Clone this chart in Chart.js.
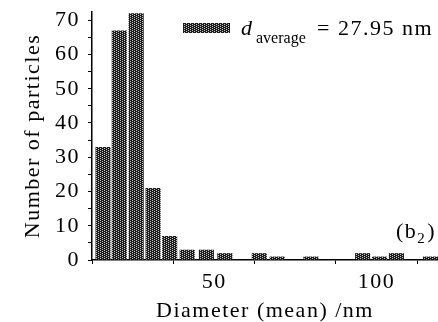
<!DOCTYPE html>
<html>
<head>
<meta charset="utf-8">
<script src="https://cdn.jsdelivr.net/npm/chart.js@4.4.0/dist/chart.umd.min.js"></script>
<style>
  html, body { margin: 0; padding: 0; background: #fff; }
  #wrap { width: 438px; height: 322px; }
</style>
</head>
<body>
<div id="wrap"><canvas id="chart"></canvas></div>
<script>
// histogram bins (centre of each bin, nm) and counts
var binCenters = [15.8, 20.8, 26.0, 31.2, 36.3, 41.7, 47.6, 53.3, 58.6, 63.9, 69.4, 74.6, 79.8, 85.1, 90.4, 95.7, 100.9, 106.1, 111.3, 116.6];
var counts = [33, 67, 72, 21, 7, 3, 3, 2, 0, 2, 1, 0, 1, 0, 0, 2, 1, 2, 0, 1];
var yTickLabels = [0, 10, 20, 30, 40, 50, 60, 70];
var xTickLabels = [50, 100];

var serif = "'Liberation Serif', 'DejaVu Serif', serif";

// dotted dark fill like the scanned bars
function makeHatch() {
    var c = document.createElement('canvas');
    c.width = 4;
    c.height = 4;
    var g = c.getContext('2d');
    g.fillStyle = '#1c1c1c';
    g.fillRect(0, 0, 4, 4);
    g.fillStyle = '#c8c8c8';
    for (var y = 0; y < 4; y++) {
        for (var x = 0; x < 4; x++) {
            if ((x + 2 * y) % 4 == 0) g.fillRect(x, y, 1, 1);
        }
    }
    return g.createPattern(c, 'repeat');
}
var hatch = makeHatch();

var points = binCenters.map(function (d, i) {
    return { x: d, y: counts[i] };
});

// scanned type is spaced out a little
var spacing = {
    id: 'spacing',
    beforeUpdate: function (chart) { chart.ctx.letterSpacing = '1.5px'; },
    beforeDraw: function (chart) { chart.ctx.letterSpacing = '1.5px'; }
};

// legend with subscript + panel label
var annotations = {
    id: 'annotations',
    afterDraw: function (chart) {
        var ctx = chart.ctx;
        var area = chart.chartArea;
        ctx.save();
        ctx.fillStyle = hatch;
        ctx.fillRect(area.left + 91, area.top + 11, 47, 10);
        ctx.fillStyle = '#000';
        ctx.textBaseline = 'alphabetic';
        ctx.textAlign = 'left';
        var base = area.top + 23;
        ctx.font = 'italic 22px ' + serif;
        ctx.fillText('d', area.left + 149, base);
        ctx.letterSpacing = '0px';
        ctx.font = '16px ' + serif;
        ctx.fillText('average', area.left + 164, base + 8);
        ctx.letterSpacing = '1.5px';
        ctx.font = '22px ' + serif;
        ctx.fillText('= 27.95 nm', area.left + 225, base);

        // (b2)
        var by = area.top + 226;
        var bx = area.left + 304;
        ctx.fillText('(b', bx, by);
        var w = ctx.measureText('(b').width;
        ctx.font = '15px ' + serif;
        ctx.fillText('2', bx + w, by + 5);
        var w2 = ctx.measureText('2').width;
        ctx.font = '22px ' + serif;
        ctx.fillText(')', bx + w + w2 + 1, by);
        ctx.restore();
    }
};

new Chart(document.getElementById('chart'), {
    type: 'bar',
    data: {
        datasets: [{
            label: 'd average = 27.95 nm',
            data: points,
            backgroundColor: hatch,
            borderWidth: 0,
            barPercentage: 0.93,
            categoryPercentage: 1
        }]
    },
    options: {
        responsive: true,
        maintainAspectRatio: false,
        animation: false,
        layout: { padding: { top: 12, right: 0, left: 0, bottom: 0 } },
        plugins: {
            legend: { display: false },
            tooltip: { enabled: false }
        },
        scales: {
            x: {
                type: 'linear',
                min: 12.4,
                max: 118.9,
                offset: false,
                border: { display: true, color: '#000', width: 1.5 },
                grid: { drawOnChartArea: false, drawTicks: true, tickLength: 4, color: '#000' },
                ticks: {
                    stepSize: 25,
                    includeBounds: false,
                    padding: 5,
                    maxRotation: 0,
                    autoSkip: false,
                    color: '#000',
                    font: { family: serif, size: 22 },
                    callback: function (v) {
                        return xTickLabels.indexOf(v) != -1 ? String(v) : '';
                    }
                },
                afterBuildTicks: function (scale) {
                    scale.ticks = scale.ticks.filter(function (t) { return t.value % 25 == 0; });
                },
                afterFit: function (scale) {
                    scale.height = 62;
                    scale.paddingLeft = 0;
                    scale.paddingRight = 0;
                },
                title: {
                    display: true,
                    text: 'Diameter (mean) /nm',
                    color: '#000',
                    font: { family: serif, size: 22, lineHeight: 1 },
                    padding: { top: 0, bottom: 0 }
                }
            },
            y: {
                min: 0,
                max: 72.4,
                border: { display: true, color: '#000', width: 1.5 },
                grid: { drawOnChartArea: false, drawTicks: true, tickLength: 4, color: '#000' },
                ticks: {
                    stepSize: 5,
                    includeBounds: false,
                    padding: 8,
                    autoSkip: false,
                    color: '#000',
                    font: { family: serif, size: 22 },
                    callback: function (v) {
                        return yTickLabels.indexOf(v) != -1 ? String(v) : '';
                    }
                },
                afterBuildTicks: function (scale) {
                    scale.ticks = scale.ticks.filter(function (t) { return t.value % 5 == 0; });
                },
                afterFit: function (scale) {
                    scale.width = 92;
                    scale.paddingTop = 0;
                    scale.paddingBottom = 0;
                },
                title: {
                    display: true,
                    text: 'Number of particles',
                    color: '#000',
                    font: { family: serif, size: 22, lineHeight: 1.2 },
                    padding: { top: 20, bottom: 0 }
                }
            }
        }
    },
    plugins: [spacing, annotations]
});
</script>
</body>
</html>
